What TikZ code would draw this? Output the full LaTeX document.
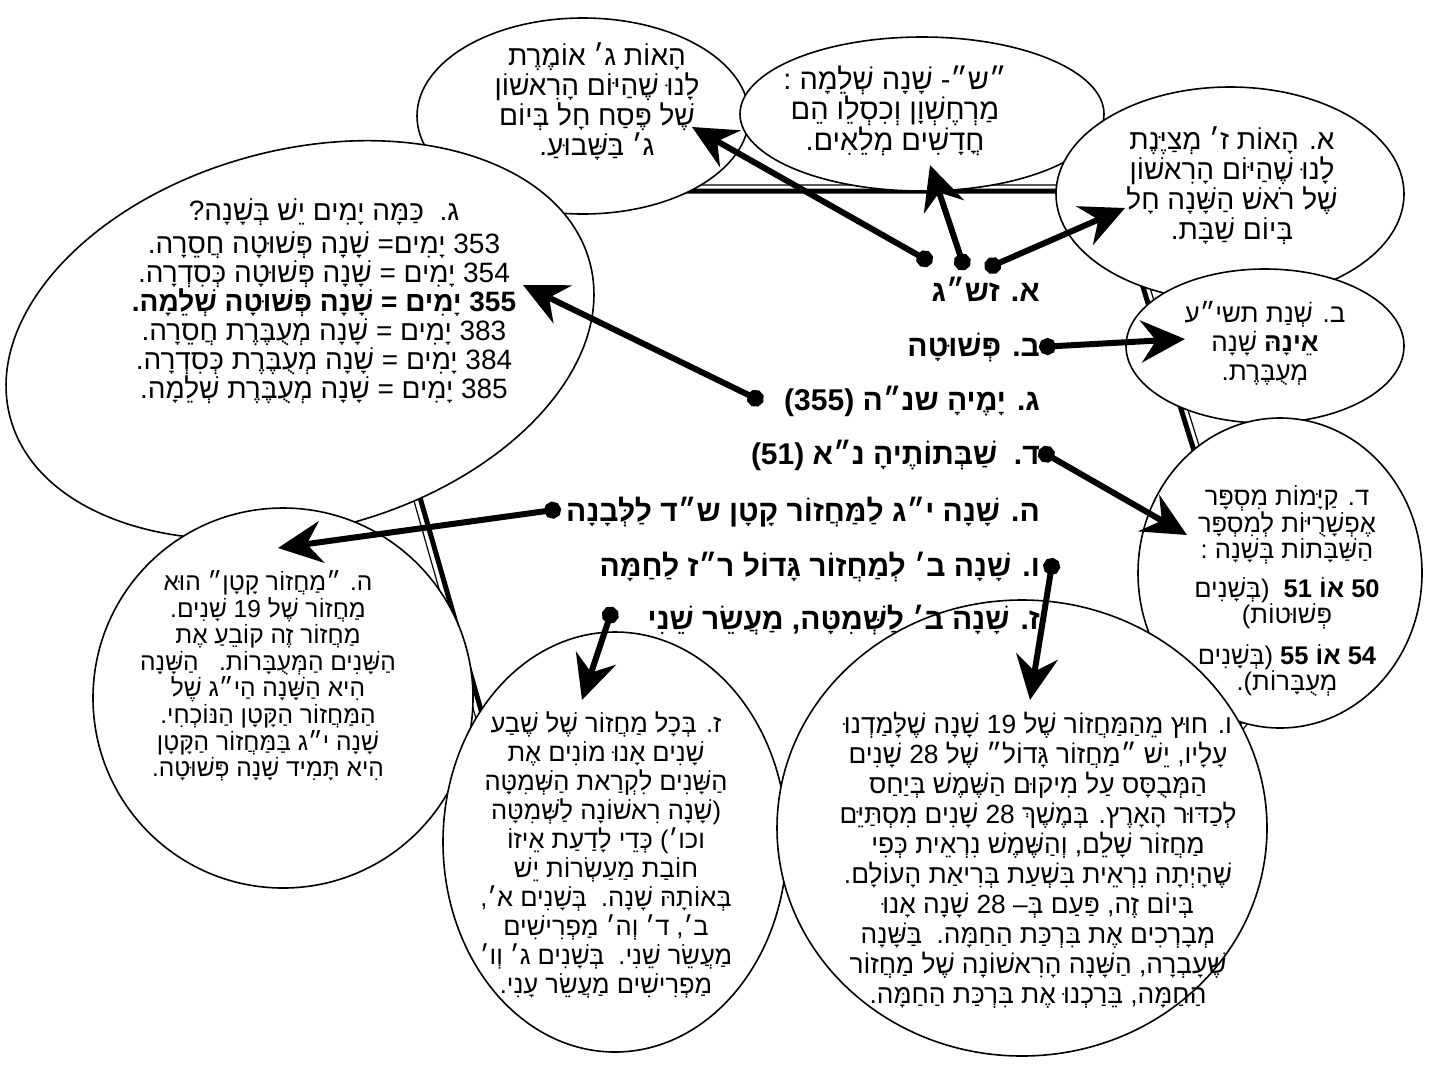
\documentclass[tikz,border=0pt]{standalone}
\usepackage{fontspec}
\newfontfamily\hebfont[Script=Hebrew]{Liberation Sans}
\TeXXeTstate=1
\usetikzlibrary{arrows.meta,shapes.geometric}
\newcommand{\rtl}[1]{\beginR #1\endR}
\tikzstyle{bubble} = [
 ellipse,
 draw,
 line width=1.6pt,
 fill=white,
 inner sep=0pt
]
\tikzstyle{note} = [
 align=center,
 inner sep=0pt,
 font=\hebfont\fontsize{28}{30}\selectfont
]
\tikzstyle{smallnote} = [
 align=center,
 inner sep=0pt,
 font=\hebfont\fontsize{24.5}{26.6}\selectfont
]
\tikzstyle{headline} = [
 anchor=base east,
 inner sep=0pt,
 font=\hebfont\bfseries\fontsize{30}{34}\selectfont
]
\tikzstyle{pointer} = [
 line width=6pt,
 arrows={Circle[length=17pt]-Stealth[length=44pt,width=42pt,inset=15pt]}
]

\begin{document}
\begin{tikzpicture}[x=1pt,y=-1pt]
  \useasboundingbox (0,0) rectangle (1445,1077);
  \draw[line width=1.2pt, line join=miter] (324,185) -- (1118,185) -- (1275,690)
    -- (1100,905) -- (782,835) -- (512,845) -- cycle;
  \draw[line width=5pt, line join=miter] (332,191) -- (1113,191) -- (1268,688)
    -- (1097,898) -- (782,829) -- (518,839) -- cycle;

  \node [bubble, minimum width=332pt, minimum height=196pt] (pesach) at (583,116) {};
  \node [bubble, minimum width=600pt, minimum height=380pt, rotate=15] (yamim) at (300,340) {};
  \node [bubble, minimum width=380pt, minimum height=380pt] (katan) at (283,698) {};
  \node [bubble, minimum width=364pt, minimum height=154pt] (shlema) at (922,114) {};
  \node [bubble, minimum width=348pt, minimum height=214pt] (rosh) at (1230,194) {};
  \node [bubble, minimum width=278pt, minimum height=154pt] (tashia) at (1265,346) {};
  \node [bubble, minimum width=284pt, minimum height=310pt] (shabbat) at (1280,573) {};
  \node [bubble, minimum width=344pt, minimum height=420pt] (shmita) at (615,842) {};
  \node [bubble, minimum width=490pt, minimum height=456pt] (gadol) at (1022,828) {};

  \node [note] (pesachtxt) at (597,101) {
    \rtl{הָאוֹת ג׳ אוֹמֶרֶת}\\
    \rtl{לָנוּ שֶׁהַיּוֹם הָרִאשׁוֹן}\\
    \rtl{שֶׁל פֶּסַח חָל בְּיוֹם}\\
    \rtl{ג׳ בַּשָּׁבוּעַ.}};
  \node [note, font=\hebfont\fontsize{29}{28}\selectfont] (shlematxt) at (895,111) {
    \rtl{״ש״- שָׁנָה שְׁלֵמָה :}\\
    \rtl{מַרְחֶשְׁוָן וְכִסְלֵו הֵם}\\
    \rtl{חֳדָשִׁים מְלֵאִים.}};
  \node [note] (roshtxt) at (1232,186) {
    \rtl{א. הָאוֹת ז׳ מְצַיֶּנֶת}\\
    \rtl{לָנוּ שֶׁהַיּוֹם הָרִאשׁוֹן}\\
    \rtl{שֶׁל רֹאשׁ הַשָּׁנָה חָל}\\
    \rtl{בְּיוֹם שַׁבָּת.}};
  \node [note, font=\hebfont\fontsize{26}{29}\selectfont] (tashiatxt) at (1265,343) {
    \rtl{ב. שְׁנַת תשי״ע}\\
    \rtl{\textbf{אֵינָהּ} שָׁנָה}\\
    \rtl{מְעֻבֶּרֶת.}};
  \node [smallnote, font=\hebfont\fontsize{25.5}{26.5}\selectfont] (shabbattxt) at (1287,591) {
    \rtl{ד. קַיָּמוֹת מִסְפָּר}\\
    \rtl{אֶפְשָׁרֻיּוֹת לְמִסְפָּר}\\
    \rtl{הַשַּׁבָּתוֹת בְּשָׁנָה :}\\[12pt]
    \rtl{\textbf{50 אוֹ 51}\ \ (בְּשָׁנִים}\\
    \rtl{פְּשׁוּטוֹת)}\\[14pt]
    \rtl{\textbf{54 אוֹ 55} (בְּשָׁנִים}\\
    \rtl{מְעֻבָּרוֹת).}};
  \node [note, font=\hebfont\fontsize{28}{29}\selectfont] (yamimtxt) at (324,301) {
    \rtl{ג.\ \ כַּמָּה יָמִים יֵשׁ בְּשָׁנָה?}\\[4pt]
    \rtl{353 יָמִים= שָׁנָה פְּשׁוּטָה חֲסֵרָה.}\\
    \rtl{354 יָמִים = שָׁנָה פְּשׁוּטָה כְּסִדְרָה.}\\
    \rtl{\textbf{355 יָמִים = שָׁנָה פְּשׁוּטָה שְׁלֵמָה.}}\\
    \rtl{383 יָמִים = שָׁנָה מְעֻבֶּרֶת חֲסֵרָה.}\\
    \rtl{384 יָמִים = שָׁנָה מְעֻבֶּרֶת כְּסִדְרָה.}\\
    \rtl{385 יָמִים = שָׁנָה מְעֻבֶּרֶת שְׁלֵמָה.}};
  \node [smallnote] (katantxt) at (268,676) {
    \rtl{ה. ״מַחֲזוֹר קָטָן״ הוּא}\\
    \rtl{מַחֲזוֹר שֶׁל 19 שָׁנִים.}\\
    \rtl{מַחֲזוֹר זֶה קוֹבֵעַ אֶת}\\
    \rtl{הַשָּׁנִים הַמְּעֻבָּרוֹת.\ \ \ הַשָּׁנָה}\\
    \rtl{הִיא הַשָּׁנָה הַי״ג שֶׁל}\\
    \rtl{הַמַּחֲזוֹר הַקָּטָן הַנּוֹכְחִי.}\\
    \rtl{שָׁנָה י״ג בַּמַּחֲזוֹר הַקָּטָן}\\
    \rtl{הִיא תָּמִיד שָׁנָה פְּשׁוּטָה.}};
  \node [smallnote, font=\hebfont\fontsize{25.5}{29}\selectfont] (shmitatxt) at (606,855) {
    \rtl{ז. בְּכָל מַחֲזוֹר שֶׁל שֶׁבַע}\\
    \rtl{שָׁנִים אָנוּ מוֹנִים אֶת}\\
    \rtl{הַשָּׁנִים לִקְרַאת הַשְּׁמִטָּה}\\
    \rtl{(שָׁנָה רִאשׁוֹנָה לַשְּׁמִטָּה}\\
    \rtl{וכו׳) כְּדֵי לָדַעַת אֵיזוֹ}\\
    \rtl{חוֹבַת מַעַשְׂרוֹת יֵשׁ}\\
    \rtl{בְּאוֹתָהּ שָׁנָה.\ \ בְּשָׁנִים א׳,}\\
    \rtl{ב׳, ד׳ וְה׳ מַפְרִישִׁים}\\
    \rtl{מַעֲשֵׂר שֵׁנִי.\ \ בְּשָׁנִים ג׳ וְו׳}\\
    \rtl{מַפְרִישִׁים מַעֲשֵׂר עָנִי.}};
  \node [smallnote, font=\hebfont\fontsize{26.3}{30}\selectfont] (gadoltxt) at (1038,860) {
    \rtl{ו. חוּץ מֵהַמַּחֲזוֹר שֶׁל 19 שָׁנָה שֶׁלָּמַדְנוּ}\\
    \rtl{עָלָיו, יֵשׁ ״מַחֲזוֹר גָּדוֹל״ שֶׁל 28 שָׁנִים}\\
    \rtl{הַמְּבֻסָּס עַל מִיקוּם הַשֶּׁמֶשׁ בְּיַחַס}\\
    \rtl{לְכַדּוּר הָאָרֶץ. בְּמֶשֶׁךְ 28 שָׁנִים מִסְתַּיֵּם}\\
    \rtl{מַחֲזוֹר שָׁלֵם, וְהַשֶּׁמֶשׁ נִרְאֵית כְּפִי}\\
    \rtl{שֶׁהָיְתָה נִרְאֵית בִּשְׁעַת בְּרִיאַת הָעוֹלָם.}\\
    \rtl{בְּיוֹם זֶה, פַּעַם בְּ– 28 שָׁנָה אָנוּ}\\
    \rtl{מְבָרְכִים אֶת בִּרְכַּת הַחַמָּה.\ \ בַּשָּׁנָה}\\
    \rtl{שֶׁעָבְרָה, הַשָּׁנָה הָרִאשׁוֹנָה שֶׁל מַחֲזוֹר}\\
    \rtl{הַחַמָּה, בֵּרַכְנוּ אֶת בִּרְכַּת הַחַמָּה.}};

  \node [headline] (lineA) at (1040,301) {\rtl{א. זש״ג}};
  \node [headline] (lineB) at (1040,356) {\rtl{ב. פְּשׁוּטָה}};
  \node [headline] (lineC) at (1040,410) {\rtl{ג. יָמֶיהָ שנ״ה (355)}};
  \node [headline] (lineD) at (1040,464) {\rtl{ד.\ \ שַׁבְּתוֹתֶיהָ נ״א (51)}};
  \node [headline] (lineE) at (1040,521) {\rtl{ה. שָׁנָה י״ג לַמַּחֲזוֹר קָטָן ש״ד לַלְּבָנָה}};
  \node [headline] (lineF) at (1040,576) {\rtl{ו. שָׁנָה ב׳ לְמַחֲזוֹר גָּדוֹל ר״ז לַחַמָּה}};
  \node [headline] (lineG) at (1040,629) {\rtl{ז. שָׁנָה ב׳ לַשְּׁמִטָּה, מַעֲשֵׂר שֵׁנִי}};

  \coordinate (fromA1) at (932,263);
  \coordinate (fromA2) at (965,270);
  \coordinate (fromA3) at (985,269);
  \coordinate (fromB) at (1039,347);
  \coordinate (fromC) at (763,402);
  \coordinate (fromD) at (1039,450);
  \coordinate (fromE) at (561,509);
  \coordinate (fromF) at (1053,558);
  \coordinate (fromG) at (613,607);
  \coordinate (toPesach) at (692,127);
  \coordinate (toShlema) at (930,165);
  \coordinate (toRosh) at (1125,208);
  \coordinate (toTashia) at (1185,339);
  \coordinate (toYamim) at (523,285);
  \coordinate (toShabbat) at (1187,535);
  \coordinate (toKatan) at (278,548);
  \coordinate (toGadol) at (1030,700);
  \coordinate (toShmita) at (582,700);

  \draw [pointer] (fromA1) -- (toPesach);
  \draw [pointer] (fromA2) -- (toShlema);
  \draw [pointer] (fromA3) -- (toRosh);
  \draw [pointer] (fromB) -- (toTashia);
  \draw [pointer] (fromC) -- (toYamim);
  \draw [pointer] (fromD) -- (toShabbat);
  \draw [pointer] (fromE) -- (toKatan);
  \draw [pointer] (fromF) -- (toGadol);
  \draw [pointer] (fromG) -- (toShmita);
\end{tikzpicture}
\end{document}
